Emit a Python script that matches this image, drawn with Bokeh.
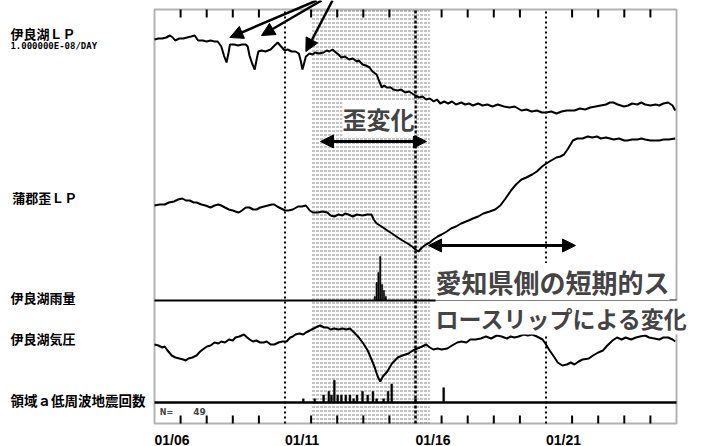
from bokeh.plotting import figure
from bokeh.models import Range1d, BoxAnnotation, Label, Arrow, NormalHead
from bokeh.core.properties import value
from bokeh.embed import file_html
from bokeh.resources import INLINE

# ---------------- data (days of January) ----------------
lp_day = [6.00, 6.15, 6.30, 6.45, 6.59, 6.70, 6.79, 6.95, 7.10, 7.25, 7.40, 7.54, 7.67, 7.85, 8.00,
          8.15, 8.30, 8.42, 8.56, 8.66, 8.76, 8.84, 8.89, 9.05, 9.20, 9.35, 9.50, 9.57, 9.64, 9.74,
          9.84, 9.92, 9.98, 10.10, 10.25, 10.45, 10.60, 10.72, 10.85, 10.99, 11.10, 11.25, 11.40,
          11.53, 11.60, 11.67, 11.74, 11.80, 11.94, 12.05, 12.15, 12.30, 12.48, 12.60, 12.70, 12.82,
          12.95, 13.05, 13.16, 13.30, 13.45, 13.60, 13.75, 13.83, 13.97, 14.10, 14.24, 14.35, 14.51,
          14.60, 14.71, 14.80, 14.90, 15.05, 15.15, 15.32, 15.45, 15.60, 15.75, 15.87, 16.00, 16.14,
          16.27, 16.41, 16.55, 16.70, 16.82, 16.95, 17.10, 17.25, 17.40, 17.55, 17.76, 17.90, 18.05,
          18.20, 18.40, 18.57, 18.75, 18.95, 19.15, 19.39, 19.60, 19.80, 20.06, 20.25, 20.45, 20.65,
          20.85, 21.01, 21.20, 21.40, 21.60, 21.80, 22.09, 22.30, 22.50, 22.70, 22.90, 23.10, 23.30,
          23.45, 23.58, 23.75, 23.99, 24.15, 24.30, 24.50, 24.65, 24.80, 25.00, 25.20, 25.34, 25.50,
          25.68, 25.85, 25.95]
lp_val = [0, 1, 1, 2, 4, 2, -1, 1, 1, 2, 3, 4, -1, -1, -2,
          -1, -2, -2, -7, -16, -23, -13, -5, -5, -6, -5, -5, -7, -16, -24,
          -30, -19, -12, -11, -12, -10, -6, -3, -7, -11, -10, -12, -12,
          -14, -21, -30, -23, -17, -14, -15, -13, -14, -13, -11, -12, -10,
          -13, -15, -18, -17, -20, -19, -22, -21, -25, -26, -28, -32, -35,
          -41, -48, -46, -48, -48, -50, -51, -50, -53, -52, -54, -56, -58,
          -57, -60, -59, -62, -60, -64, -62, -64, -62, -65, -63, -65, -64,
          -66, -64, -66, -65, -67, -65, -67, -68, -67, -71, -70, -72, -71,
          -73, -73, -72, -74, -72, -71, -71, -69, -70, -68, -67, -66, -65,
          -63, -63, -65, -67, -66, -64, -65, -63, -65, -66, -65, -66, -64,
          -63, -66, -71]

strain_day = [6.00, 6.20, 6.39, 6.55, 6.75, 6.90, 7.07, 7.20, 7.35, 7.50, 7.61, 7.80, 7.95, 8.15,
              8.30, 8.45, 8.56, 8.70, 8.85, 9.00, 9.10, 9.23, 9.35, 9.50, 9.64, 9.78, 9.91, 10.05,
              10.20, 10.35, 10.50, 10.59, 10.70, 10.85, 11.00, 11.13, 11.30, 11.50, 11.65, 11.80,
              11.95, 12.07, 12.25, 12.45, 12.62, 12.75, 12.89, 13.05, 13.20, 13.30, 13.43, 13.60,
              13.75, 13.97, 14.15, 14.31, 14.40, 14.51, 14.70, 14.92, 15.10, 15.32, 15.50, 15.70,
              15.87, 16.00, 16.11, 16.25, 16.40, 16.55, 16.68, 16.85, 17.00, 17.20, 17.36, 17.55,
              17.75, 18.03, 18.20, 18.40, 18.60, 18.84, 19.05, 19.25, 19.45, 19.66, 19.85, 20.06,
              20.25, 20.47, 20.65, 20.85, 21.01, 21.20, 21.40, 21.55, 21.69, 21.85, 22.03, 22.20,
              22.40, 22.60, 22.77, 22.95, 23.10, 23.30, 23.45, 23.60, 23.80, 24.00, 24.12, 24.30,
              24.50, 24.65, 24.80, 25.00, 25.20, 25.34, 25.50, 25.70, 25.95]
strain_val = [0, 1, 1, 3, 4, 6, 7, 5, 5, 3, 3, 1, 0, -2,
              0, 1, 0, -2, -4, -5, -6, -7, -5, -2, -2, -4, -4, -2,
              -1, 0, 1, 1, -1, -3, -5, -5, -4, -1, -1, 0,
              -5, -7, -7, -6, -7, -10, -11, -9, -10, -8, -9, -11,
              -9, -10, -9, -9, -14, -18, -21, -25, -28, -32, -35, -38,
              -41, -44, -46, -42, -39, -37, -34, -31, -29, -26, -23, -21,
              -18, -15, -13, -11, -8, -6, -4, 0, 7, 15, 21, 26,
              28, 31, 34, 39, 42, 45, 48, 49, 51, 57, 65, 67,
              67, 69, 68, 69, 67, 68, 67, 66, 67, 65, 65, 66,
              66, 67, 66, 65, 65, 65, 66, 66, 67]

pres_day = [6.00, 6.15, 6.30, 6.39, 6.50, 6.66, 6.80, 6.95, 7.10, 7.20, 7.30, 7.45, 7.61, 7.75,
            7.90, 8.01, 8.15, 8.30, 8.45, 8.56, 8.70, 8.85, 9.00, 9.10, 9.25, 9.43, 9.55, 9.65,
            9.77, 9.90, 10.05, 10.18, 10.30, 10.45, 10.59, 10.75, 10.90, 11.06, 11.20, 11.30,
            11.40, 11.55, 11.70, 11.80, 11.95, 12.10, 12.25, 12.35, 12.50, 12.62, 12.75, 12.89,
            13.05, 13.20, 13.35, 13.49, 13.65, 13.83, 14.00, 14.17, 14.30, 14.44, 14.55, 14.65,
            14.75, 14.92, 15.10, 15.32, 15.50, 15.73, 15.90, 16.07, 16.25, 16.41, 16.55, 16.68,
            16.85, 17.00, 17.22, 17.40, 17.60, 17.76, 17.95, 18.10, 18.30, 18.50, 18.70, 18.90,
            19.11, 19.30, 19.50, 19.65, 19.79, 19.95, 20.15, 20.30, 20.47, 20.65, 20.87, 21.00,
            21.14, 21.30, 21.45, 21.62, 21.80, 21.95, 22.09, 22.25, 22.40, 22.64, 22.80, 23.00,
            23.18, 23.35, 23.55, 23.72, 23.90, 24.05, 24.26, 24.45, 24.60, 24.80, 24.95, 25.15,
            25.34, 25.50, 25.68, 25.85, 25.95]
pres_val = [0, -1, -3, -2, -6, -11, -13, -14, -15, -16, -14, -13, -11, -7,
            -4, -2, -1, 2, 1, 3, 2, 5, 4, 7, 8, 10, 7, 5,
            3, 4, 2, 2, 3, 0, 0, 2, 3, 3, 7, 8,
            10, 11, 10, 12, 14, 16, 18, 19, 17, 17, 15, 16,
            15, 16, 15, 16, 12, 7, 1, -6, -14, -23, -32, -37,
            -32, -27, -19, -13, -11, -9, -6, -4, -2, 0, -3, -5,
            -4, -5, -4, -1, 2, 3, 2, 5, 5, 6, 8, 6,
            9, 8, 6, 8, 7, 8, 10, 9, 10, 8, 5, 0,
            -6, -12, -18, -21, -20, -18, -20, -17, -15, -14, -11, -8,
            -6, -1, 4, 7, 5, 7, 5, 7, 8, 9, 7, 6,
            5, 7, 7, 5, 3]

rain_day = [14.44, 14.51, 14.58, 14.65, 14.72, 14.79, 14.86]
rain_mm = [2, 9, 14, 22, 8, 5, 2]

lfe_day = [11.70, 12.14, 12.48, 12.68, 12.78, 12.89, 13.02, 13.16, 13.33, 13.49, 13.63, 13.76,
           13.97, 14.17, 14.37, 14.51, 14.78, 14.95, 15.09, 16.00, 17.08]
lfe_count = [1, 1, 2, 3, 2, 6, 2, 2, 2, 2, 1, 2, 3, 2, 3, 1, 1, 3, 5, 1, 4]
lfe_total = "49"

tick_days = [6, 11, 16, 21]
tick_labels = ["01/06", "01/11", "01/16", "01/21"]
day_start, day_end = 6, 26

# ---------------- layout constants ----------------
W, H = 700, 446
X0, PX_PER_DAY = 154, 26.1          # frame left edge (px) and day width
FRAME_BOTTOM, FRAME_H = 423, 414     # y levels measured upward from frame bottom (1 unit = 1 px)

p = figure(width=W, height=H, output_backend="svg", toolbar_location=None,
           x_range=Range1d(day_start - X0 / PX_PER_DAY, day_start + (W - X0) / PX_PER_DAY),
           y_range=Range1d(FRAME_BOTTOM - H, FRAME_BOTTOM),
           x_axis_type=None, y_axis_type=None,
           min_border_left=0, min_border_right=0, min_border_top=0, min_border_bottom=0)
p.outline_line_color = None
p.background_fill_color = "white"
p.border_fill_color = "white"
lo, hi = FRAME_BOTTOM - H, FRAME_BOTTOM


def panel_range(base, px_per_unit):
    return Range1d((lo - base) / px_per_unit, (hi - base) / px_per_unit)


RAIN_BASE, LFE_BASE = 123, 21
p.extra_y_ranges = {
    "lp": panel_range(384, 1.0),
    "strain": panel_range(218, 1.0),
    "rain": panel_range(RAIN_BASE, 2.0),
    "pres": panel_range(79, 1.0),
    "lfe": panel_range(LFE_BASE, 3.7),
}

# stippled period
p.add_layout(BoxAnnotation(left=12.0, right=16.55, bottom=0, top=FRAME_H,
                           fill_color="white", fill_alpha=1.0,
                           hatch_pattern='"', hatch_color="#8a8a8a", hatch_scale=4,
                           hatch_weight=1, line_color=None, level="underlay"))

# vertical date lines
p.segment(x0=[11, 21], y0=0, x1=[11, 21], y1=FRAME_H, line_color="black",
          line_dash="2 3", line_width=2)
p.segment(x0=[16], y0=0, x1=[16], y1=FRAME_H, line_color="black",
          line_dash="3 2", line_width=2.5)

# panel baselines
p.segment(x0=day_start, y0=[RAIN_BASE], x1=day_end, y1=[RAIN_BASE], line_color="black", line_width=2)
p.segment(x0=day_start, y0=[LFE_BASE], x1=day_end, y1=[LFE_BASE], line_color="black", line_width=2.5)

# traces
p.line(lp_day, lp_val, y_range_name="lp", line_color="black", line_width=2)
p.line(strain_day, strain_val, y_range_name="strain", line_color="black", line_width=2)
p.line(pres_day, pres_val, y_range_name="pres", line_color="black", line_width=2)
p.vbar(x=rain_day, top=rain_mm, bottom=0, width=0.05, y_range_name="rain",
       fill_color="black", line_color="black", line_width=0.5)
p.vbar(x=lfe_day, top=lfe_count, bottom=0, width=0.07, y_range_name="lfe",
       fill_color="black", line_color="black", line_width=0.5)

# daily ticks inside the frame (top and bottom)
minor_days = [d for d in range(day_start + 1, day_end) if d not in tick_days]
p.segment(x0=minor_days, y0=FRAME_H, x1=minor_days, y1=FRAME_H - 8, line_color="black", line_width=2)
p.segment(x0=minor_days, y0=0, x1=minor_days, y1=8, line_color="black", line_width=2)

# frame
p.add_layout(BoxAnnotation(left=day_start, right=day_end, bottom=0, top=FRAME_H,
                           fill_alpha=0, line_color="black", line_width=2))

# date labels (left aligned at the day line)
p.text(x=tick_days, y=-8, text=tick_labels, text_font=value("Liberation Sans"),
       text_font_style="bold", text_font_size="14px", text_align="left",
       text_baseline="top", text_color="black")

# left-side channel names
JP = "Noto Sans CJK JP"
for txt, x, y, size, font in [
    ("伊良湖ＬＰ", 0.48, 390, "13px", JP),
    ("1.000000E-08/DAY", 0.48, 378, "9px", "DejaVu Sans Mono"),
    ("蒲郡歪ＬＰ", 0.55, 226, "13px", JP),
    ("伊良湖雨量", 0.48, 126, "13px", JP),
    ("伊良湖気圧", 0.48, 85, "13px", JP),
    ("領域ａ低周波地震回数", 0.48, 24, "13.5px", JP),
]:
    p.add_layout(Label(x=x, y=y, text=txt, text_font=font, text_font_size=size,
                       text_font_style="bold", text_baseline="middle", text_align="left",
                       text_color="black"))

p.add_layout(Label(x=6.2, y=11, text="N=", text_font="DejaVu Sans", text_font_size="8px",
                   text_font_style="bold", text_baseline="middle"))
p.add_layout(Label(x=7.48, y=12, text=lfe_total, text_font="DejaVu Sans", text_font_size="9px",
                   text_font_style="bold", text_baseline="middle"))

# annotations
head = dict(size=13, fill_color="black", line_color="black")
for x0, x1, y1 in [(12.21, 8.89, 386), (12.40, 10.10, 388), (12.82, 11.80, 372)]:
    p.add_layout(Arrow(end=NormalHead(**head), x_start=x0, y_start=423, x_end=x1, y_end=y1,
                       line_width=2.5, line_color="black"))

p.add_layout(Arrow(start=NormalHead(**head), end=NormalHead(**head), x_start=12.36, y_start=282,
                   x_end=16.42, y_end=282, line_width=3, line_color="black"))
p.add_layout(Arrow(start=NormalHead(**head), end=NormalHead(**head), x_start=16.50, y_start=178,
                   x_end=22.13, y_end=178, line_width=3, line_color="black"))

p.add_layout(Label(x=14.58, y=305, text="歪変化", text_font=JP, text_font_size="24px",
                   text_font_style="bold", text_align="center", text_baseline="middle",
                   background_fill_color="white"))
p.add_layout(Label(x=16.77, y=142, text="愛知県側の短期的ス", text_font=JP,
                   text_font_size="26px", text_font_style="bold", text_baseline="middle",
                   text_align="left", background_fill_color="white"))
p.add_layout(Label(x=16.77, y=106, text="ロースリップによる変化", text_font=JP,
                   text_font_size="23px", text_font_style="bold", text_baseline="middle",
                   text_align="left", background_fill_color="white"))

open("out.html", "w").write(file_html(p, INLINE))
